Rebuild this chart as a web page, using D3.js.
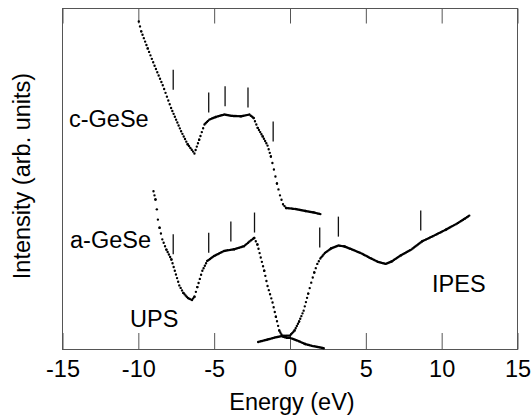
<!DOCTYPE html>
<html>
<head>
<meta charset="utf-8">
<script src="https://cdn.jsdelivr.net/npm/d3@7"></script>
<style>
  html, body { margin: 0; padding: 0; background: #fff; }
  svg { display: block; font-family: "Liberation Sans", Arial, Helvetica, sans-serif; }
</style>
</head>
<body>
<svg id="chart" width="532" height="416"></svg>
<script>
// Energy axis ticks
const xTickValues = [-15, -10, -5, 0, 5, 10, 15];
const xTickLabels = ["-15", "-10", "-5", "0", "5", "10", "15"];

// c-GeSe UPS spectrum (energy in eV, intensity in arb. units)
const cGeSeEnergy = [-9.97, -9.81, -9.38, -8.93, -8.39, -7.84, -7.18, -6.75, -6.30, -5.99, -5.64, -5.32, -4.89, -4.33, -3.81, -3.23, -2.68, -2.40, -2.13, -1.80, -1.48, -1.26, -1.06, -0.86, -0.66, -0.46, -0.26, 0.35, 1.02, 1.56, 2.09];
const cGeSeIntensity = [96.2, 93.3, 88.3, 83.2, 77.5, 70.8, 64.0, 60.2, 57.5, 61.5, 66.0, 67.4, 68.2, 68.9, 68.5, 68.4, 68.9, 67.9, 65.0, 62.5, 59.8, 56.6, 52.8, 48.7, 45.2, 42.6, 41.5, 41.2, 40.6, 40.2, 39.6];

// a-GeSe UPS spectrum
const aUpsEnergy = [-9.00, -8.87, -8.78, -8.71, -8.60, -8.42, -8.15, -7.82, -7.52, -7.30, -7.03, -6.73, -6.46, -6.30, -6.11, -5.78, -5.45, -5.01, -4.35, -3.68, -3.03, -2.58, -2.36, -2.15, -1.93, -1.70, -1.48, -1.15, -0.93, -0.71, -0.49, -0.19, 0.00, 0.50, 1.00, 1.50, 2.00, 2.30];
const aUpsIntensity = [46.4, 44.0, 41.1, 38.1, 35.7, 32.3, 29.3, 26.4, 22.0, 18.8, 16.6, 15.1, 14.5, 15.5, 18.3, 23.1, 26.0, 27.4, 28.9, 29.4, 30.3, 32.0, 32.7, 30.8, 27.0, 23.1, 18.6, 13.8, 9.6, 5.6, 3.8, 3.4, 3.4, 2.6, 1.6, 1.0, 0.6, 0.3];

// a-GeSe IPES spectrum
const aIpesEnergy = [-2.1, -1.5, -1.0, -0.5, 0.0, 0.3, 0.6, 0.9, 1.2, 1.4, 1.6, 1.8, 2.0, 2.3, 2.7, 3.2, 3.6, 4.0, 4.7, 5.3, 5.8, 6.3, 6.7, 7.3, 8.0, 8.7, 9.5, 10.3, 11.0, 11.5, 11.9];
const aIpesIntensity = [2.2, 2.9, 3.5, 4.0, 4.1, 5.6, 8.2, 11.4, 16.4, 19.6, 22.6, 25.1, 26.7, 28.3, 29.6, 30.5, 30.2, 29.5, 28.2, 26.8, 25.7, 25.1, 25.8, 27.6, 29.3, 31.7, 33.4, 35.2, 36.9, 38.3, 39.5];

// Feature markers (energy, intensity at the marker foot)
const cMarkEnergy = [-7.70, -5.36, -4.28, -2.77, -1.11];
const cMarkIntensity = [76.2, 69.5, 71.3, 71.0, 61.0];
const aMarkEnergy = [-7.70, -5.36, -3.90, -2.34, 1.96, 3.19, 8.62];
const aMarkIntensity = [27.9, 28.4, 31.7, 34.3, 29.9, 33.1, 34.9];

const svg = d3.select("#chart");
const x = d3.scaleLinear().domain([-15, 15]).range([62.5, 517.5]);
const y = d3.scaleLinear().domain([0, 100]).range([349.5, 8.5]);

const frameColor = "#555";
const fontSize = 23.5;

// frame
svg.append("rect")
  .attr("x", x(-15)).attr("y", y(100))
  .attr("width", x(15) - x(-15)).attr("height", y(0) - y(100))
  .attr("fill", "none").attr("stroke", frameColor).attr("stroke-width", 1);

// bottom axis with inward ticks
const gx = svg.append("g").attr("transform", `translate(0,${y(0)})`)
  .call(d3.axisBottom(x).tickValues(xTickValues)
    .tickFormat((d, i) => xTickLabels[i])
    .tickSizeInner(-16.5).tickSizeOuter(0).tickPadding(10.5));
gx.select(".domain").remove();
gx.selectAll(".tick line").attr("stroke", frameColor);
gx.selectAll(".tick text").attr("fill", "#000")
  .style("font-size", fontSize + "px")
  .style("font-family", '"Liberation Sans", Arial, sans-serif');

// top axis, ticks only
const gt = svg.append("g").attr("transform", `translate(0,${y(100)})`)
  .call(d3.axisTop(x).tickValues(xTickValues).tickFormat("")
    .tickSizeInner(-15).tickSizeOuter(0));
gt.select(".domain").remove();
gt.selectAll(".tick line").attr("stroke", frameColor);

// axis titles
svg.append("text")
  .attr("x", x(0) + 2).attr("y", 410)
  .attr("text-anchor", "middle")
  .style("font-size", fontSize + "px")
  .text("Energy (eV)");

svg.append("text")
  .attr("transform", "translate(29.5,176) rotate(-90)")
  .attr("text-anchor", "middle")
  .style("font-size", fontSize + "px")
  .text("Intensity (arb. units)");

// spectra: each segment dotted at the measurement step, so steep parts
// show separate dots and flat parts merge into a solid trace
const energyStep = 0.085;
function drawSpectrum(energy, intensity) {
  const g = svg.append("g");
  for (let i = 0; i < energy.length - 1; i++) {
    const x0 = x(energy[i]), y0 = y(intensity[i]);
    const x1 = x(energy[i + 1]), y1 = y(intensity[i + 1]);
    const len = Math.hypot(x1 - x0, y1 - y0);
    const n = Math.max(1, Math.round(Math.abs(energy[i + 1] - energy[i]) / energyStep));
    const gap = len / n;
    g.append("path")
      .attr("d", d3.line()([[x0, y0], [x1, y1]]))
      .attr("fill", "none")
      .attr("stroke", "#000")
      .attr("stroke-width", 2.4)
      .attr("stroke-linecap", "round")
      .attr("stroke-dasharray", `0 ${gap}`);
  }
}
drawSpectrum(cGeSeEnergy, cGeSeIntensity);
drawSpectrum(aUpsEnergy, aUpsIntensity);
drawSpectrum(aIpesEnergy, aIpesIntensity);

// feature markers
function drawMarkers(energy, intensity) {
  svg.append("g").selectAll("line")
    .data(energy.map((e, i) => [e, intensity[i]]))
    .join("line")
    .attr("x1", d => x(d[0])).attr("x2", d => x(d[0]))
    .attr("y1", d => y(d[1])).attr("y2", d => y(d[1]) - 20)
    .attr("stroke", "#111").attr("stroke-width", 1.3);
}
drawMarkers(cMarkEnergy, cMarkIntensity);
drawMarkers(aMarkEnergy, aMarkIntensity);

// curve labels
const labels = [
  { text: "c-GeSe", x: 69, y: 127 },
  { text: "a-GeSe", x: 70, y: 248 },
  { text: "UPS", x: 130, y: 327 },
  { text: "IPES", x: 432, y: 291.5 }
];
svg.append("g").selectAll("text")
  .data(labels)
  .join("text")
  .attr("x", d => d.x).attr("y", d => d.y)
  .style("font-size", fontSize + "px")
  .text(d => d.text);
</script>
</body>
</html>
